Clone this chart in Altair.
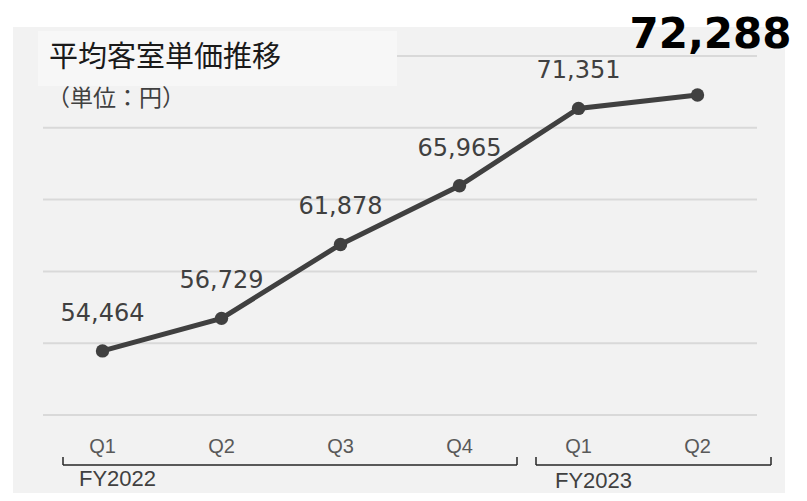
import altair as alt
import pandas as pd

# ---- data ----
fiscal_years = ["FY2022", "FY2022", "FY2022", "FY2022", "FY2023", "FY2023"]
quarters = ["Q1", "Q2", "Q3", "Q4", "Q1", "Q2"]
values = [54464, 56729, 61878, 65965, 71351, 72288]
grid_values = [50000, 55000, 60000, 65000, 70000, 75000]
title_text = "平均客室単価推移"
unit_text = "（単位：円）"

periods = [f"{fy} {q}" for fy, q in zip(fiscal_years, quarters)]
df = pd.DataFrame({"period": periods, "fy": fiscal_years, "q": quarters, "value": values})
df["is_last"] = [False] * (len(df) - 1) + [True]
grid_df = pd.DataFrame({"g": grid_values})
one = pd.DataFrame({"a": [0]})

W, H = 714, 359
xscale = alt.Scale(type="point", domain=periods, padding=0.5)
yscale = alt.Scale(domain=[50000, 75000], zero=False, nice=False)
X = alt.X("period:N", scale=xscale, axis=None)
Y = alt.Y("value:Q", scale=yscale, axis=None)

DARK = "#404040"

panel = alt.Chart(one).mark_rect(color="#f2f2f2").encode(
    x=alt.value(-30), x2=alt.value(742), y=alt.value(-29), y2=alt.value(460)
)

grid = alt.Chart(grid_df).mark_rule(color="#d9d9d9", strokeWidth=2).encode(
    x=alt.value(0), x2=alt.value(W), y=alt.Y("g:Q", scale=yscale, axis=None)
)

title_box = alt.Chart(one).mark_rect(color="#f7f7f7").encode(
    x=alt.value(-5), x2=alt.value(354), y=alt.value(-25), y2=alt.value(30)
)

title = alt.Chart(pd.DataFrame({"t": [title_text]})).mark_text(
    font="Noto Sans CJK JP", fontSize=29, color="#1a1a1a", align="left", baseline="middle"
).encode(text="t:N", x=alt.value(6), y=alt.value(2))

unit = alt.Chart(pd.DataFrame({"t": [unit_text]})).mark_text(
    font="Noto Sans CJK JP", fontSize=23, color=DARK, align="left", baseline="middle"
).encode(text="t:N", x=alt.value(4), y=alt.value(43))

line = alt.Chart(df).mark_line(color=DARK, strokeWidth=5).encode(x=X, y=Y)
points = alt.Chart(df).mark_point(filled=True, opacity=1, color=DARK, size=180).encode(x=X, y=Y)

labels = alt.Chart(df).transform_filter("!datum.is_last").mark_text(
    font="DejaVu Sans", fontSize=24, color=DARK, baseline="middle", dy=-37
).encode(x=X, y=Y, text=alt.Text("value:Q", format=","))

big_label = alt.Chart(df).transform_filter("datum.is_last").mark_text(
    font="DejaVu Sans", fontSize=42, fontWeight="bold", color="#000000",
    baseline="middle", dx=13, dy=-60
).encode(x=X, y=Y, text=alt.Text("value:Q", format=","))

qlabels = alt.Chart(df).mark_text(
    font="Liberation Sans", fontSize=20, color="#595959", baseline="middle"
).encode(x=X, y=alt.value(391), text="q:N")

BR = "#262626"
def rule(x1, x2, y1, y2):
    return alt.Chart(one).mark_rule(color=BR, strokeWidth=1.5).encode(
        x=alt.value(x1), x2=alt.value(x2), y=alt.value(y1), y2=alt.value(y2)
    )

brackets = [
    rule(20, 474, 409, 409), rule(20, 20, 401, 409), rule(474, 474, 401, 409),
    rule(493, 728, 409, 409), rule(493, 493, 401, 409), rule(728, 728, 401, 409),
]

fy_df = pd.DataFrame({"fy": ["FY2022", "FY2023"], "px": [74.5, 550.5], "py": [423, 425]})
fy_labels = alt.Chart(fy_df).mark_text(
    font="Liberation Sans", fontSize=22, color=DARK, baseline="middle"
).encode(
    x=alt.X("px:Q", scale=alt.Scale(domain=[0, W], range=[0, W]), axis=None),
    y=alt.Y("py:Q", scale=alt.Scale(domain=[0, H], range=[0, H]), axis=None),
    text="fy:N",
)

chart = alt.layer(
    panel, grid, title_box, title, unit, line, points, labels, big_label, qlabels,
    *brackets, fy_labels
).resolve_scale(x="independent", y="independent").properties(
    width=W, height=H,
    autosize=alt.AutoSizeParams(type="none"),
    padding={"left": 35, "top": 48, "right": 42, "bottom": 78},
    background="#ffffff",
).configure_view(stroke=None)

chart.save("out.html", embed_options={"renderer": "svg", "actions": False})
